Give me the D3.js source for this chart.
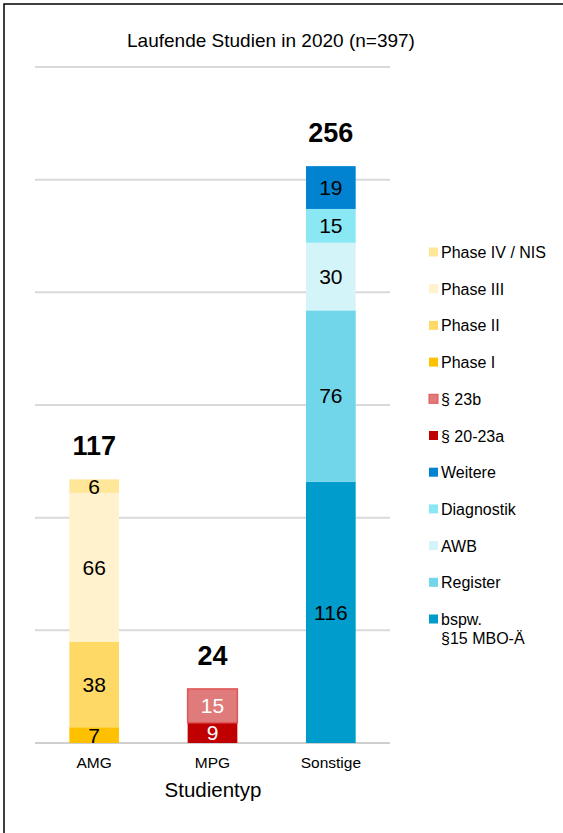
<!DOCTYPE html>
<html>
<head>
<meta charset="utf-8">
<script src="https://cdn.jsdelivr.net/npm/d3@7"></script>
<style>
  body { margin: 0; background: #fff; }
  text { font-family: "Liberation Sans", Arial, sans-serif; }
</style>
</head>
<body>
<svg id="chart" width="563" height="833"></svg>
<script>
// categories and segments (bottom to top in the stack)
var categories = ["AMG", "MPG", "Sonstige"];
var segKeys = ["Phase I", "Phase II", "Phase III", "Phase IV / NIS",
               "§ 20-23a", "§ 23b",
               "bspw. §15 MBO-Ä", "Register", "AWB", "Diagnostik", "Weitere"];
var amgValues      = [7, 38, 66, 6];
var mpgValues      = [9, 15];
var sonstigeValues = [116, 76, 30, 15, 19];
var legendOrder = ["Phase IV / NIS", "Phase III", "Phase II", "Phase I", "§ 23b", "§ 20-23a",
                   "Weitere", "Diagnostik", "AWB", "Register", "bspw. §15 MBO-Ä"];
var yTicks = [0, 50, 100, 150, 200, 250, 300];
var colors = ["#FFC000", "#FFD966", "#FFF2CC", "#FFE699",
              "#C00000", "#E07B7B",
              "#009CCB", "#72D6EA", "#D3F4F8", "#8AE8F4", "#0283D2"];

var color = d3.scaleOrdinal().domain(segKeys).range(colors);

// build table rows for d3.stack
var rows = categories.map(function(c) {
    var r = {cat: c};
    segKeys.forEach(function(k) { r[k] = 0; });
    return r;
});
segKeys.slice(0, 4).forEach(function(k, i) { rows[0][k] = amgValues[i]; });
segKeys.slice(4, 6).forEach(function(k, i) { rows[1][k] = mpgValues[i]; });
segKeys.slice(6).forEach(function(k, i) { rows[2][k] = sonstigeValues[i]; });

var series = d3.stack().keys(segKeys)(rows);

var svg = d3.select("#chart");

// outer frame
svg.append("rect")
    .attr("x", 4).attr("y", 4).attr("width", 570).attr("height", 840)
    .attr("fill", "none").attr("stroke", "#000").attr("stroke-width", 1.5);

var x = d3.scaleBand().domain(categories).range([35, 390]).paddingInner(0.58).paddingOuter(0.29);
var y = d3.scaleLinear().domain([0, 300]).range([743, 67]);

// gridlines
svg.append("g").selectAll("line")
    .data(yTicks)
    .enter().append("line")
    .attr("x1", 35).attr("x2", 390)
    .attr("y1", function(d) { return y(d); })
    .attr("y2", function(d) { return y(d); })
    .attr("stroke", function(d) { return d === 0 ? "#cfcfcf" : "#d9d9d9"; })
    .attr("stroke-width", 2);

// bars
var layer = svg.append("g").selectAll("g")
    .data(series)
    .enter().append("g")
    .attr("fill", function(d) { return color(d.key); });

layer.selectAll("rect")
    .data(function(d) { return d.map(function(p) { p.key = d.key; return p; }).filter(function(p) { return p[1] > p[0]; }); })
    .enter().append("rect")
    .attr("x", function(d) { return x(d.data.cat); })
    .attr("width", x.bandwidth())
    .attr("y", function(d) { return y(d[1]); })
    .attr("height", function(d) { return y(d[0]) - y(d[1]); })
    .attr("stroke", function(d) { return d.key === "§ 23b" ? "#E05555" : "none"; })
    .attr("stroke-width", 1.5);

layer.selectAll("text")
    .data(function(d) { return d.filter(function(p) { return p[1] > p[0]; }); })
    .enter().append("text")
    .attr("x", function(d) { return x(d.data.cat) + x.bandwidth() / 2; })
    .attr("y", function(d) { return (y(d[0]) + y(d[1])) / 2 + 7.5; })
    .attr("text-anchor", "middle")
    .attr("font-size", 21)
    .attr("fill", function(d) { return d.data.cat === "MPG" ? "#fff" : "#000"; })
    .text(function(d) { return d[1] - d[0]; });

// totals
var totals = rows.map(function(r) { return {cat: r.cat, total: d3.sum(segKeys, function(k) { return r[k]; })}; });
svg.append("g").selectAll("text")
    .data(totals)
    .enter().append("text")
    .attr("x", function(d) { return x(d.cat) + x.bandwidth() / 2; })
    .attr("y", function(d) { return y(d.total) - 24; })
    .attr("text-anchor", "middle")
    .attr("font-size", 27)
    .attr("font-weight", "bold")
    .text(function(d) { return d.total; });

// category axis
svg.append("g")
    .attr("transform", "translate(0,752)")
    .call(d3.axisBottom(x).tickSize(0).tickPadding(5))
    .call(function(g) { g.select(".domain").remove(); })
    .selectAll("text")
    .attr("font-size", 15.5)
    .attr("fill", "#000")
    .style("font-family", "Liberation Sans, Arial, sans-serif");

svg.append("text")
    .attr("x", 213).attr("y", 797)
    .attr("text-anchor", "middle")
    .attr("font-size", 20.5)
    .text("Studientyp");

// title
svg.append("text")
    .attr("x", 271).attr("y", 47)
    .attr("text-anchor", "middle")
    .attr("font-size", 19)
    .text("Laufende Studien in 2020 (n=397)");

// legend
var legend = svg.append("g").selectAll("g")
    .data(legendOrder)
    .enter().append("g")
    .attr("transform", function(d, i) { return "translate(429," + (252 + i * 36.7) + ")"; });

legend.append("rect")
    .attr("x", 0).attr("y", -4.5)
    .attr("width", 9).attr("height", 9)
    .attr("fill", function(d) { return color(d); })
    .attr("stroke", function(d) { return d === "§ 23b" ? "#E05555" : "none"; })
    .attr("stroke-width", 1);

legend.append("text")
    .attr("x", 12).attr("y", 6)
    .attr("font-size", 16)
    .each(function(d) {
        var t = d3.select(this);
        if (d === "bspw. §15 MBO-Ä") {
            t.append("tspan").attr("x", 12).text("bspw.");
            t.append("tspan").attr("x", 12).attr("dy", 19).text("§15 MBO-Ä");
        } else {
            t.text(d);
        }
    });
</script>
</body>
</html>
